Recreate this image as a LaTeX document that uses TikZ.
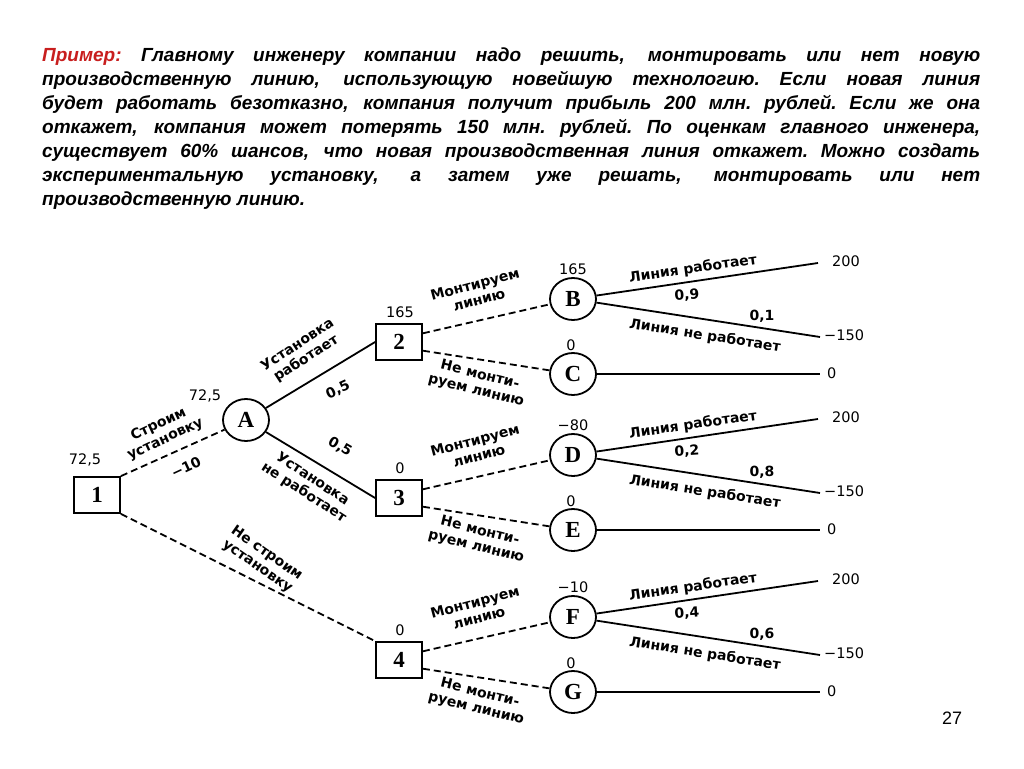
\documentclass[tikz,border=0pt]{standalone}
\usepackage{fontspec}
\setmainfont{Liberation Serif}
\setsansfont{Liberation Sans}
\newfontfamily\lblfont{DejaVu Sans}
\usetikzlibrary{positioning,shapes.geometric}
\definecolor{Red}{HTML}{C81E1E}

% one line of the task text, spread over the full width
\newcommand\jline[1]{\hbox to 938pt{\spaceskip=0.3em plus 1fil\xspaceskip=\spaceskip #1}}

\tikzset{
  dec/.style={draw,line width=1.8pt,minimum width=46pt,minimum height=36pt,
    inner sep=0pt,font=\bfseries\fontsize{23}{23}\selectfont},
  chance/.style={draw,ellipse,line width=1.8pt,minimum width=46pt,minimum height=42pt,inner sep=0pt,
    font=\bfseries\fontsize{23}{23}\selectfont},
  act/.style={line width=1.8pt,dash pattern=on 7pt off 4pt},
  evt/.style={line width=1.8pt},
  lbl/.style={font=\lblfont\bfseries\fontsize{14}{16}\selectfont,align=center,inner sep=0pt},
  val/.style={font=\lblfont\fontsize{14.5}{15}\selectfont,inner sep=0pt}
}

\begin{document}
\begin{tikzpicture}[x=1pt,y=-1pt]
  \useasboundingbox (0,0) rectangle (1024,768);

  \node[anchor=north west,inner sep=0pt,
    font=\sffamily\bfseries\itshape\fontsize{19}{24}\selectfont] (title) at (42,48)
    {\vbox{\jline{\textcolor{Red}{Пример:} Главному инженеру компании надо решить, монтировать или нет новую}
     \jline{производственную линию, использующую новейшую технологию. Если новая линия}
     \jline{будет работать безотказно, компания получит прибыль 200 млн. рублей. Если же она}
     \jline{откажет, компания может потерять 150 млн. рублей. По оценкам главного инженера,}
     \jline{существует 60\% шансов, что новая производственная линия откажет. Можно создать}
     \jline{экспериментальную установку, а затем уже решать, монтировать или нет}
     \hbox{производственную линию.}}};

  % first decision and the pilot plant
  \node[dec] (n1) at (97,495) {1};
  \node[chance] (nA) at (246,420) {A};
  \node[val] (v1) at (85,460) {72,5};
  \node[val] (vA) at (205,396) {72,5};

  \foreach \n/\up/\dn/\y/\vb/\vu/\pa/\pb in {
    2/B/C/299/165/165/{0,9}/{0,1},
    3/D/E/455/0/{−80}/{0,2}/{0,8},
    4/F/G/617/0/{−10}/{0,4}/{0,6}}{
    \node[dec] (n\n) at (399,\y+43) {\n};
    \node[chance] (n\up) at (573,\y) {\up};
    \node[chance] (n\dn) at (573,\y+75) {\dn};
    \coordinate (t\up1) at (818,\y-36);
    \coordinate (t\up2) at (820,\y+38);
    \coordinate (t\dn) at (820,\y+75);
    \draw[act] (n\n.20) -- (n\up);
    \draw[act] (n\n.-20) -- (n\dn);
    \draw[evt] (n\up) -- (t\up1);
    \draw[evt] (n\up) -- (t\up2);
    \draw[evt] (n\dn) -- (t\dn);
    \node[val] at (400,\y+13) {\vb};
    \node[val] at (573,\y-30) {\vu};
    \node[val] at (571,\y+46) {0};
    \node[lbl,rotate=15] at (477,\y-7) {Монтируем\\линию};
    \node[lbl,rotate=-14] at (478,\y+84) {Не монти-\\руем линию};
    \node[lbl,rotate=8] at (693,\y-30) {Линия работает};
    \node[lbl,rotate=4] at (687,\y-4) {\pa};
    \node[lbl] at (762,\y+17) {\pb};
    \node[lbl,rotate=-9] at (705,\y+37) {Линия не работает};
    \node[val,anchor=west] at (832,\y-38) {200};
    \node[val,anchor=west] at (824,\y+36) {−150};
    \node[val,anchor=west] at (827,\y+74) {0};
  }

  \draw[act] (n1.north east) -- (nA);
  \draw[act] (n1.south east) -- (n4.north west);
  \draw[evt] (nA) -- (n2.west);
  \draw[evt] (nA) -- (n3.west);

  \node[lbl,rotate=25] at (162,432) {Строим\\установку};
  \node[lbl,rotate=25] at (186,467) {−10};
  \node[lbl,rotate=33] at (302,352) {Установка\\работает};
  \node[lbl,rotate=25] at (338,390) {0,5};
  \node[lbl,rotate=-30] at (340,447) {0,5};
  \node[lbl,rotate=-33] at (308,486) {Установка\\не работает};
  \node[lbl,rotate=-35] at (262,560) {Не строим\\установку};

  \node[font=\sffamily\fontsize{18}{18}\selectfont] (page) at (952,718) {27};
\end{tikzpicture}
\end{document}
